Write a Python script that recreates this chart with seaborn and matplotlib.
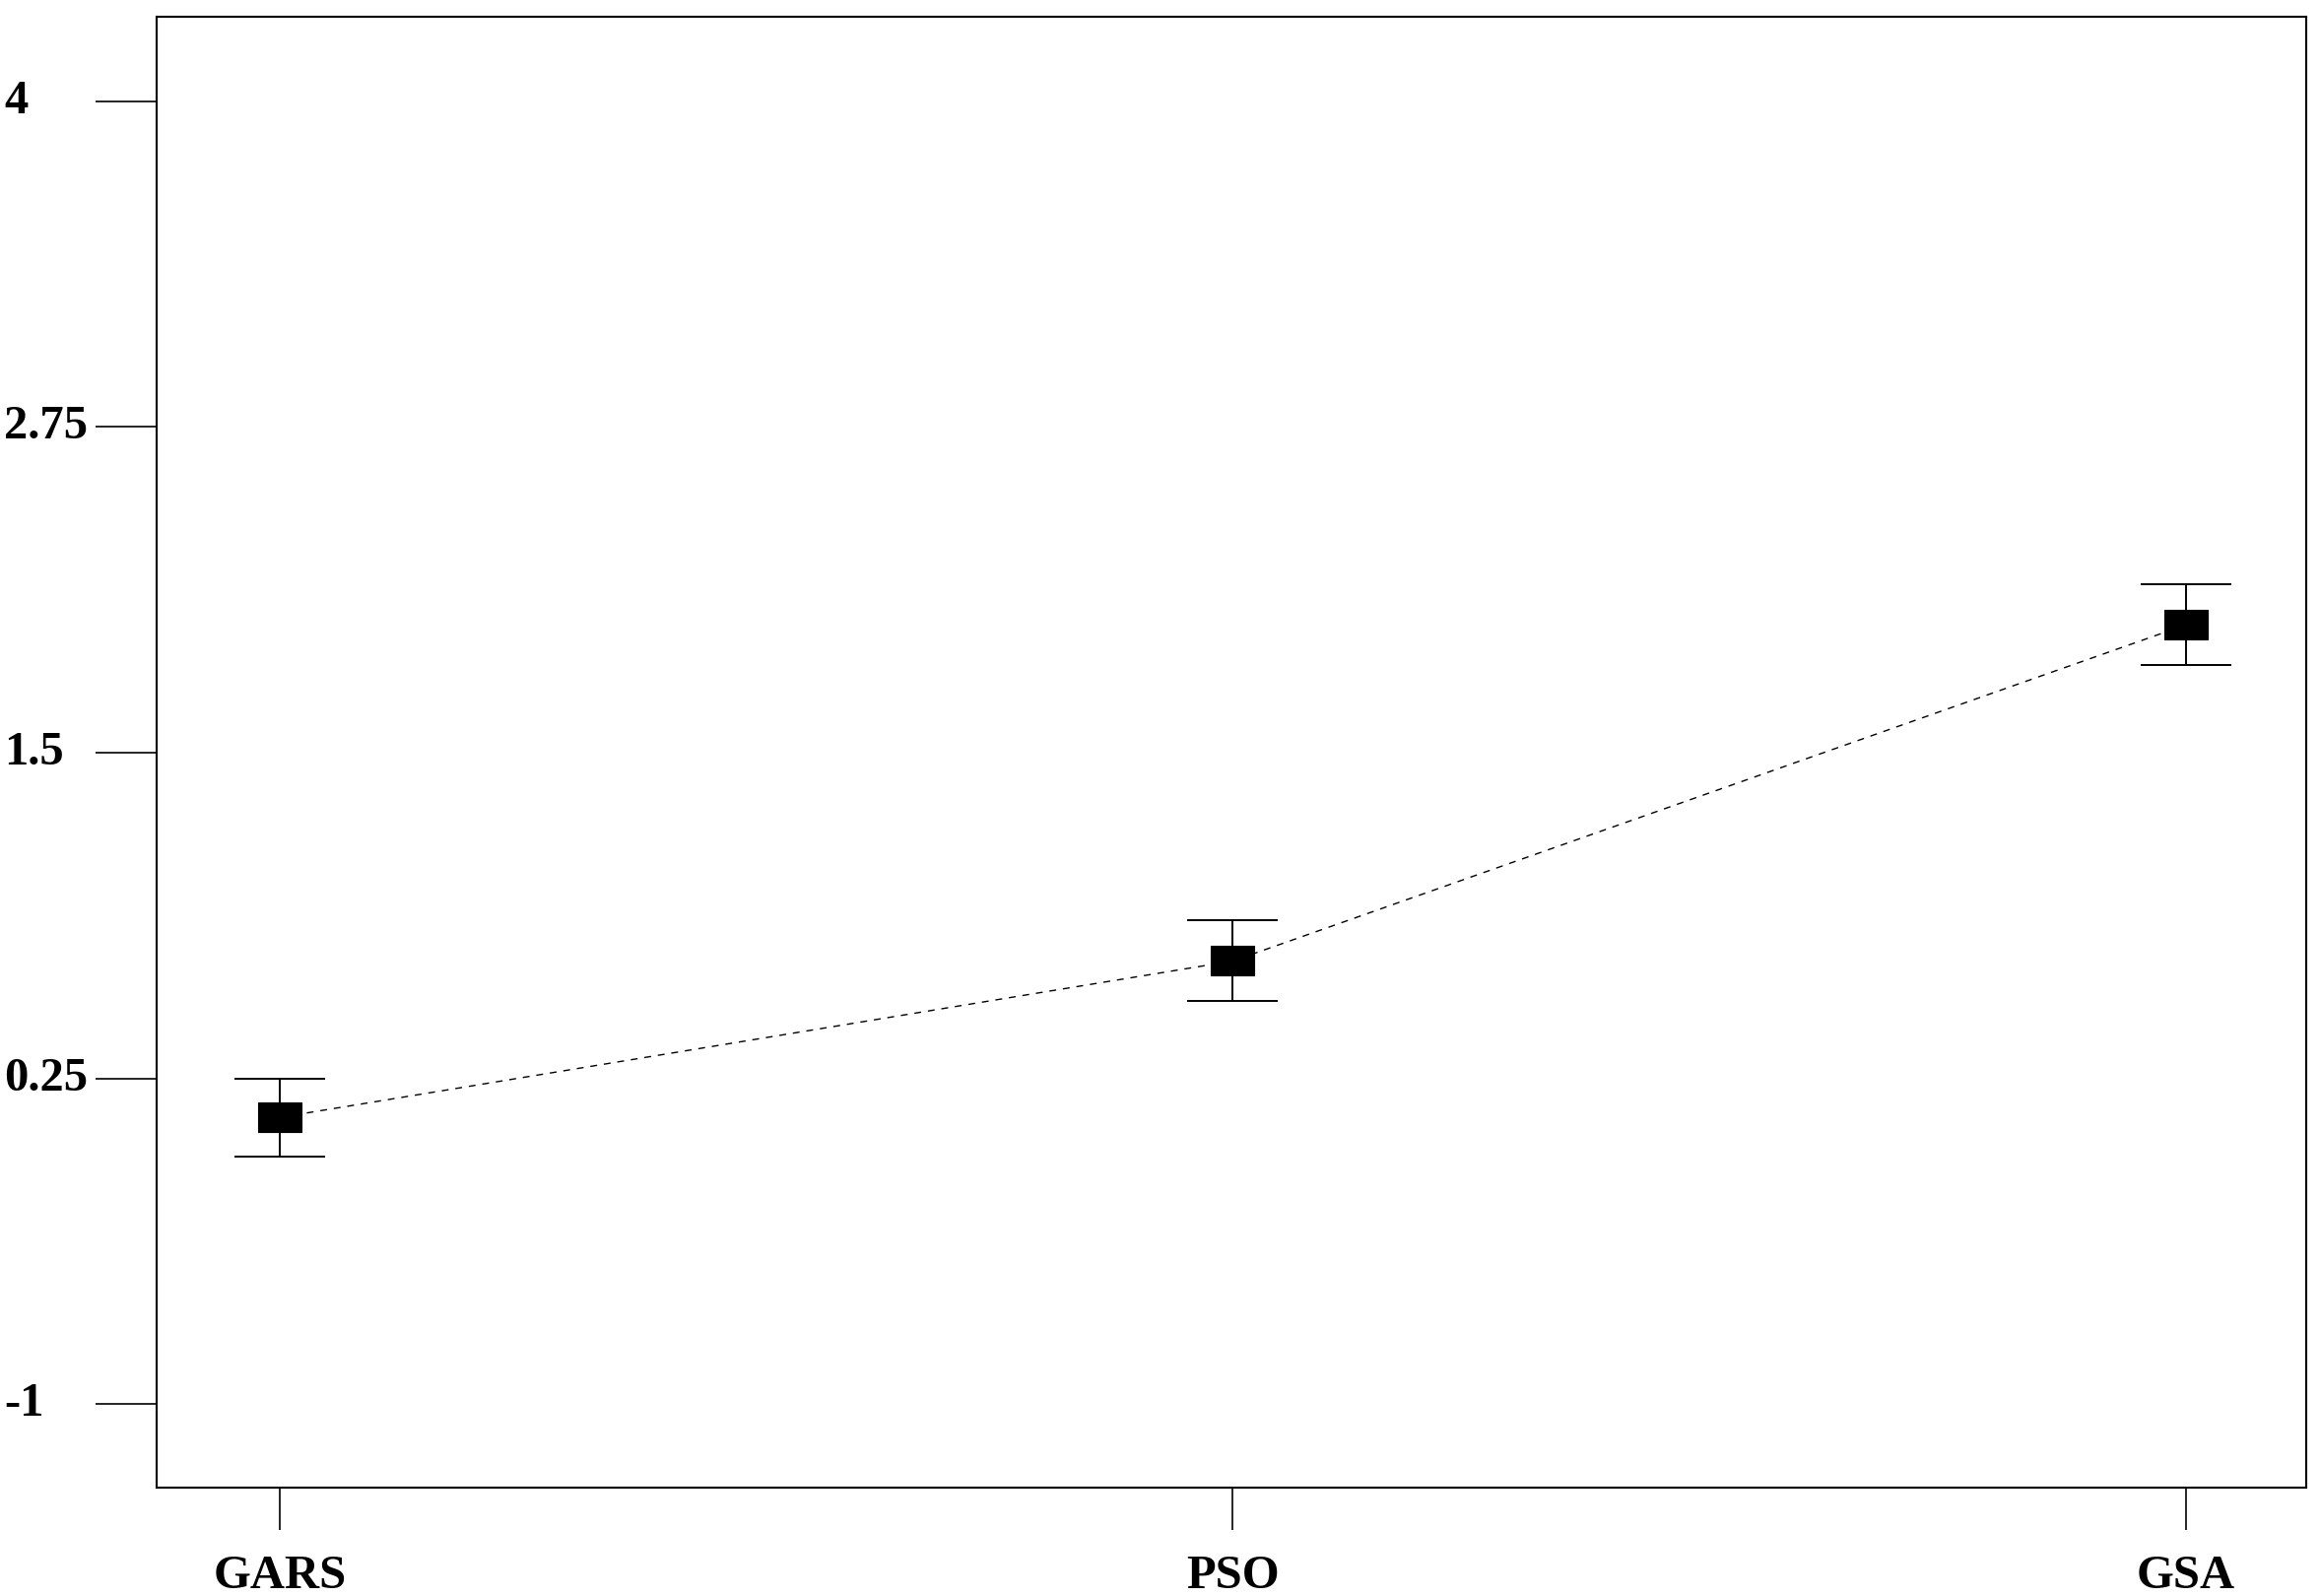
import matplotlib
matplotlib.use("Agg")
import matplotlib.pyplot as plt
from matplotlib.path import Path
import seaborn as sns


# values
methods = ["GARS", "PSO", "GSA"]
means = [0.10, 0.70, 1.99]
errs = [0.15, 0.155, 0.155]
ytick_vals = [-1, 0.25, 1.5, 2.75, 4]
ytick_text = ["-1", "0.25", "1.5", "2.75", "4"]

sns.set_style("white")
plt.rcParams["font.family"] = ["Liberation Serif", "DejaVu Serif"]
plt.rcParams["font.weight"] = "bold"

fig = plt.figure(figsize=(23.55, 16.2), dpi=100)
ax = fig.add_axes([0.0676, 0.0679, 0.9263, 0.9216])

# wide rectangle marker
rect = Path([(-1.5, -1), (1.5, -1), (1.5, 1), (-1.5, 1), (-1.5, -1)],
            [Path.MOVETO, Path.LINETO, Path.LINETO, Path.LINETO, Path.CLOSEPOLY])

sns.pointplot(x=methods, y=means, errorbar=None, color="black",
              marker=rect, markersize=32, linestyle=(0, (5, 5)),
              linewidth=1.0, markeredgewidth=0.8, ax=ax)

ax.errorbar(x=[0, 1, 2], y=means, yerr=errs, fmt="none", ecolor="black",
            elinewidth=1.4, capsize=32.8, capthick=1.4, zorder=1)

ax.set_xlim(-0.129, 2.126)
ax.set_ylim(-1.321, 4.324)
ax.set_yticks(ytick_vals)
ax.set_yticklabels(ytick_text)
ax.set_xlabel("")
ax.set_ylabel("")

for s in ax.spines.values():
    s.set_visible(True)
    s.set_color("black")
    s.set_linewidth(1.5)

ax.tick_params(axis="y", left=True, direction="out", length=44.6, width=1.2,
               color="black", pad=66.8, labelsize=35, labelcolor="black")
ax.tick_params(axis="x", bottom=True, direction="out", length=31, width=1.2,
               color="black", pad=18, labelsize=35, labelcolor="black")
for lab in ax.get_yticklabels():
    lab.set_horizontalalignment("left")
    lab.set_verticalalignment("center")
    lab.set_fontweight("bold")
for lab in ax.get_xticklabels():
    lab.set_fontweight("bold")

fig.savefig("out.png", dpi=100)
